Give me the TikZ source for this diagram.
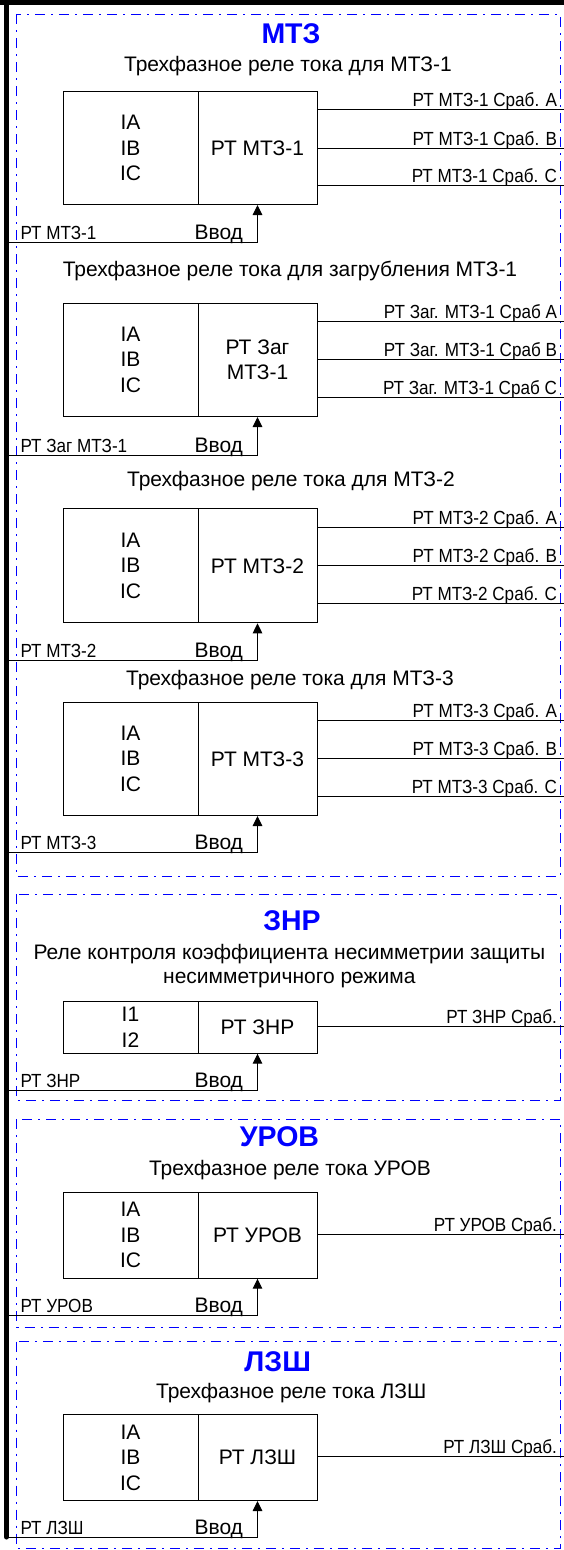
\documentclass[tikz,border=0pt]{standalone}
\usepackage{fontspec}
\setmainfont{Liberation Sans}
\newfontfamily\condfont[FakeStretch=0.9]{Liberation Sans}
\usetikzlibrary{arrows.meta}
\definecolor{grpblue}{RGB}{0,0,255}
\begin{document}
\begin{tikzpicture}[x=1pt,y=-1pt,
  grp/.style={draw=grpblue,line width=1pt,dash pattern=on 10pt off 6pt on 2pt off 6pt},
  ttl/.style={text=grpblue,font=\fontsize{28.5}{30}\selectfont\bfseries,anchor=base,inner sep=0pt},
  sub/.style={font=\fontsize{21}{24.7}\selectfont,anchor=base,inner sep=0pt,align=center},
  cellbase/.style={draw,line width=1pt,anchor=north west,inner sep=0pt,align=center,font=\fontsize{21}{25.5}\selectfont},
  lcell/.style={cellbase,minimum width=135pt},
  rcell/.style={cellbase,minimum width=119pt},
  wire/.style={line width=1pt},
  inwire/.style={line width=1pt,-{Triangle[length=10pt,width=9.5pt]}},
  lbl/.style={font=\fontsize{19}{20}\condfont,inner sep=0pt},
  outlbl/.style={lbl,pos=1,anchor=base east,xshift=-6.5pt,yshift=3pt},
  inlbl/.style={lbl,pos=0,anchor=base west,xshift=13.5pt,yshift=3pt},
  vvod/.style={font=\fontsize{21}{22}\selectfont,inner sep=0pt,pos=0.5,anchor=base east,xshift=-14pt,yshift=3pt}
]
\useasboundingbox (0,0) rectangle (564,1550);

% bus
\fill (0,0) rectangle (564,5);
\draw[line width=5pt,line cap=round] (6.5,2.5) -- (6.5,1537);

% group frames
\draw[grp] (16.5,14) rectangle (560,876.7);
\draw[grp] (16.5,894) rectangle (560,1100.7);
\draw[grp] (16.5,1119.3) rectangle (560,1327.3);
\draw[grp] (16.5,1341.7) rectangle (560,1548.3);

% ===== MTZ group =====
\node[ttl] (t1) at (291,43) {МТЗ};

% block 1
\node[sub] (s1) at (288,71.7) {Трехфазное реле тока для МТЗ-1};
\node[lcell,minimum height=113pt] (l1) at (62.5,91) {IA\\IB\\IC};
\node[rcell,minimum height=113pt] (r1) at (197.5,91) {РТ МТЗ-1};
\coordinate (o1a) at (564,109);
\coordinate (o1b) at (564,148);
\coordinate (o1c) at (564,185);
\draw[wire] (r1.east|-o1a) -- (o1a) node[outlbl] {РТ МТЗ-1 Сраб. А};
\draw[wire] (r1.east|-o1b) -- (o1b) node[outlbl] {РТ МТЗ-1 Сраб. В};
\draw[wire] (r1.east|-o1c) -- (o1c) node[outlbl] {РТ МТЗ-1 Сраб. С};
\coordinate (i1) at (6.5,242);
\draw[inwire] (i1) -| (r1.south) node[inlbl] {РТ МТЗ-1} node[vvod] {Ввод};

% block 2
\node[sub] (s2) at (290,276.7) {Трехфазное реле тока для загрубления МТЗ-1};
\node[lcell,minimum height=113.3pt] (l2) at (62.5,302.7) {IA\\IB\\IC};
\node[rcell,minimum height=113.3pt] (r2) at (197.5,302.7) {РТ Заг\\МТЗ-1};
\coordinate (o2a) at (564,321.7);
\coordinate (o2b) at (564,359.3);
\coordinate (o2c) at (564,397.3);
\draw[wire] (r2.east|-o2a) -- (o2a) node[outlbl] {РТ Заг. МТЗ-1 Сраб А};
\draw[wire] (r2.east|-o2b) -- (o2b) node[outlbl] {РТ Заг. МТЗ-1 Сраб В};
\draw[wire] (r2.east|-o2c) -- (o2c) node[outlbl] {РТ Заг. МТЗ-1 Сраб С};
\coordinate (i2) at (6.5,455);
\draw[inwire] (i2) -| (r2.south) node[inlbl] {РТ Заг МТЗ-1} node[vvod] {Ввод};

% block 3
\node[sub] (s3) at (291,486.7) {Трехфазное реле тока для МТЗ-2};
\node[lcell,minimum height=114pt] (l3) at (62.5,508.3) {IA\\IB\\IC};
\node[rcell,minimum height=114pt] (r3) at (197.5,508.3) {РТ МТЗ-2};
\coordinate (o3a) at (564,527.7);
\coordinate (o3b) at (564,565.7);
\coordinate (o3c) at (564,603.3);
\draw[wire] (r3.east|-o3a) -- (o3a) node[outlbl] {РТ МТЗ-2 Сраб. А};
\draw[wire] (r3.east|-o3b) -- (o3b) node[outlbl] {РТ МТЗ-2 Сраб. В};
\draw[wire] (r3.east|-o3c) -- (o3c) node[outlbl] {РТ МТЗ-2 Сраб. С};
\coordinate (i3) at (6.5,660);
\draw[inwire] (i3) -| (r3.south) node[inlbl] {РТ МТЗ-2} node[vvod] {Ввод};

% block 4
\node[sub] (s4) at (290,685) {Трехфазное реле тока для МТЗ-3};
\node[lcell,minimum height=113.3pt] (l4) at (62.5,701.7) {IA\\IB\\IC};
\node[rcell,minimum height=113.3pt] (r4) at (197.5,701.7) {РТ МТЗ-3};
\coordinate (o4a) at (564,720.7);
\coordinate (o4b) at (564,758.3);
\coordinate (o4c) at (564,796);
\draw[wire] (r4.east|-o4a) -- (o4a) node[outlbl] {РТ МТЗ-3 Сраб. А};
\draw[wire] (r4.east|-o4b) -- (o4b) node[outlbl] {РТ МТЗ-3 Сраб. В};
\draw[wire] (r4.east|-o4c) -- (o4c) node[outlbl] {РТ МТЗ-3 Сраб. С};
\coordinate (i4) at (6.5,852.7);
\draw[inwire] (i4) -| (r4.south) node[inlbl] {РТ МТЗ-3} node[vvod] {Ввод};

% ===== ZNR group =====
\node[ttl] (t2) at (292,930.7) {ЗНР};
\node[sub,anchor=center] (s5) at (289.4,966.2) {Реле контроля коэффициента несимметрии защиты\\несимметричного режима};
\node[lcell,minimum height=52pt] (l5) at (62.5,1000.7) {I1\\I2};
\node[rcell,minimum height=52pt] (r5) at (197.5,1000.7) {РТ ЗНР};
\coordinate (o5) at (564,1026.7);
\draw[wire] (r5.east|-o5) -- (o5) node[outlbl] {РТ ЗНР Сраб.};
\coordinate (i5) at (6.5,1090);
\draw[inwire] (i5) -| (r5.south) node[inlbl] {РТ ЗНР} node[vvod] {Ввод};

% ===== UROV group =====
\node[ttl] (t3) at (279.5,1146.7) {УРОВ};
\node[sub] (s6) at (290,1175) {Трехфазное реле тока УРОВ};
\node[lcell,minimum height=86pt] (l6) at (62.5,1191.7) {IA\\IB\\IC};
\node[rcell,minimum height=86pt] (r6) at (197.5,1191.7) {РТ УРОВ};
\coordinate (o6) at (564,1234.3);
\draw[wire] (r6.east|-o6) -- (o6) node[outlbl] {РТ УРОВ Сраб.};
\coordinate (i6) at (6.5,1315);
\draw[inwire] (i6) -| (r6.south) node[inlbl] {РТ УРОВ} node[vvod] {Ввод};

% ===== LZSh group =====
\node[ttl] (t4) at (277.7,1371) {ЛЗШ};
\node[sub] (s7) at (291.3,1398.3) {Трехфазное реле тока ЛЗШ};
\node[lcell,minimum height=86pt] (l7) at (62.5,1414) {IA\\IB\\IC};
\node[rcell,minimum height=86pt] (r7) at (197.5,1414) {РТ ЛЗШ};
\coordinate (o7) at (564,1456.7);
\draw[wire] (r7.east|-o7) -- (o7) node[outlbl] {РТ ЛЗШ Сраб.};
\coordinate (i7) at (6.5,1537.3);
\draw[inwire] (i7) -| (r7.south) node[inlbl] {РТ ЛЗШ} node[vvod] {Ввод};
\end{tikzpicture}
\end{document}
